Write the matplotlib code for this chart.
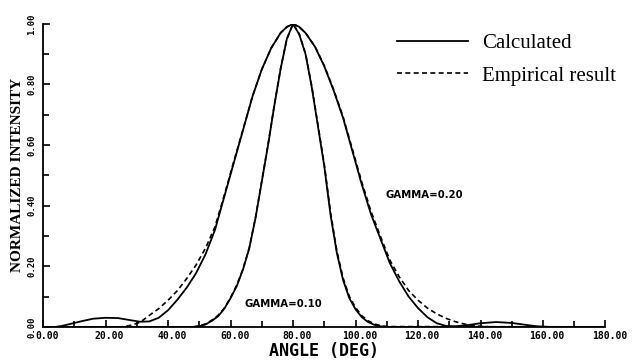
import numpy as np
import matplotlib.pyplot as plt
import matplotlib.transforms as mtransforms
from matplotlib.ticker import MultipleLocator, FormatStrFormatter

# GAMMA=0.20, calculated
wide_x = [0, 4, 6, 8, 12, 16, 20, 24, 28, 31, 34, 37, 40, 43, 46, 49, 52, 55, 58, 61,
          64, 67, 70, 73, 76, 78, 80, 82, 84, 87, 90, 93, 96, 99, 102, 105, 108, 111,
          114, 117, 120, 123, 126, 129, 132, 136, 140, 145, 150, 155, 158, 162, 180]
wide_calc = [0.0, 0.0, 0.003, 0.008, 0.018, 0.027, 0.030, 0.029, 0.022, 0.017, 0.018,
             0.030, 0.055, 0.090, 0.130, 0.178, 0.240, 0.320, 0.430, 0.540, 0.650,
             0.760, 0.850, 0.920, 0.970, 0.990, 1.000, 0.990, 0.970, 0.925, 0.860,
             0.780, 0.690, 0.580, 0.470, 0.370, 0.290, 0.210, 0.150, 0.100, 0.062,
             0.032, 0.012, 0.003, 0.002, 0.006, 0.012, 0.016, 0.013, 0.006, 0.002,
             0.0, 0.0]

# GAMMA=0.20, empirical
wide_emp_x = [0, 25, 28, 31, 34, 37, 40, 43, 46, 49, 52, 55, 58, 61, 64, 67, 70, 73,
              76, 78, 80, 82, 84, 87, 90, 93, 96, 99, 102, 105, 108, 111, 114, 117,
              120, 123, 126, 129, 132, 135, 138, 141, 145, 180]
wide_emp = [0.0, 0.0, 0.005, 0.015, 0.038, 0.060, 0.088, 0.120, 0.160, 0.205, 0.260,
            0.330, 0.435, 0.545, 0.652, 0.760, 0.850, 0.920, 0.970, 0.990, 1.000,
            0.990, 0.970, 0.926, 0.862, 0.783, 0.694, 0.586, 0.478, 0.380, 0.298,
            0.220, 0.165, 0.120, 0.088, 0.062, 0.043, 0.028, 0.017, 0.009, 0.004,
            0.001, 0.0, 0.0]

# GAMMA=0.10, calculated
narrow_x = [0, 48, 50, 52, 54, 56, 58, 60, 62, 64, 66, 68, 70, 72, 74, 76, 78, 80, 82,
            84, 86, 88, 90, 92, 94, 96, 98, 100, 102, 104, 106, 108, 110, 180]
narrow_calc = [0.0, 0.0, 0.002, 0.008, 0.020, 0.035, 0.060, 0.095, 0.135, 0.190, 0.260,
               0.360, 0.480, 0.600, 0.730, 0.850, 0.950, 1.000, 0.965, 0.900, 0.790,
               0.660, 0.530, 0.370, 0.245, 0.155, 0.095, 0.058, 0.032, 0.016, 0.007,
               0.002, 0.0, 0.0]

# GAMMA=0.10, empirical
narrow_emp = [0.0, 0.0, 0.003, 0.010, 0.022, 0.038, 0.062, 0.097, 0.138, 0.192, 0.262,
              0.362, 0.482, 0.602, 0.732, 0.852, 0.950, 1.000, 0.966, 0.902, 0.794,
              0.665, 0.536, 0.378, 0.252, 0.162, 0.101, 0.064, 0.037, 0.020, 0.010,
              0.004, 0.001, 0.0]

fig = plt.figure(figsize=(6.34, 3.62), dpi=100)
ax = fig.add_axes([0.068, 0.097, 0.887, 0.837])

ax.plot(wide_x, wide_calc, color='black', lw=1.3, label='Calculated')
ax.plot(wide_emp_x, wide_emp, color='black', lw=1.2, ls=(0, (3, 2)),
        label='Empirical result')
ax.plot(narrow_x, narrow_calc, color='black', lw=1.3)
ax.plot(narrow_x, narrow_emp, color='black', lw=1.2, ls=(0, (3, 2)))

ax.set_xlim(0, 180)
ax.set_ylim(0, 1.0)
ax.spines['top'].set_visible(False)
ax.spines['right'].set_visible(False)
ax.spines['left'].set_linewidth(1.3)
ax.spines['bottom'].set_linewidth(1.3)

ax.xaxis.set_major_locator(MultipleLocator(20))
ax.xaxis.set_minor_locator(MultipleLocator(10))
ax.yaxis.set_major_locator(MultipleLocator(0.2))
ax.yaxis.set_minor_locator(MultipleLocator(0.1))
ax.xaxis.set_major_formatter(FormatStrFormatter('%.2f'))
ax.yaxis.set_major_formatter(FormatStrFormatter('%.2f'))
ax.tick_params(which='both', direction='in', width=1.2)
ax.tick_params(which='major', length=5)
ax.tick_params(which='minor', length=4)
ax.tick_params(axis='x', pad=3)
ax.tick_params(axis='y', pad=5)

# x labels sit a little right of their ticks in the original
shift = mtransforms.ScaledTranslation(4 / 100, 0, fig.dpi_scale_trans)
for lab in ax.get_xticklabels():
    lab.set(family='DejaVu Sans Mono', weight='bold', size=7)
    lab.set_transform(lab.get_transform() + shift)
for lab in ax.get_yticklabels():
    lab.set(family='DejaVu Sans Mono', weight='bold', size=6.5)
    lab.set_rotation(90)
    lab.set_va('center')

ax.set_xlabel('ANGLE (DEG)', family='DejaVu Sans Mono', weight='bold', size=12,
              labelpad=1)
ax.set_ylabel('NORMALIZED INTENSITY', family='Liberation Serif', weight='bold',
              size=11, labelpad=2)

ax.text(109.5, 0.435, 'GAMMA=0.20', family='DejaVu Sans', weight='bold', size=7.3,
        va='center')
ax.text(64.5, 0.075, 'GAMMA=0.10', family='DejaVu Sans', weight='bold', size=7.3,
        va='center')

ax.legend(loc='upper left', bbox_to_anchor=(0.629, 0.968), frameon=False,
          prop=dict(family='Liberation Serif', size=15), handlelength=3.4,
          handletextpad=0.7, labelspacing=0.62, borderpad=0, borderaxespad=0)

fig.savefig('out.png', dpi=100)
